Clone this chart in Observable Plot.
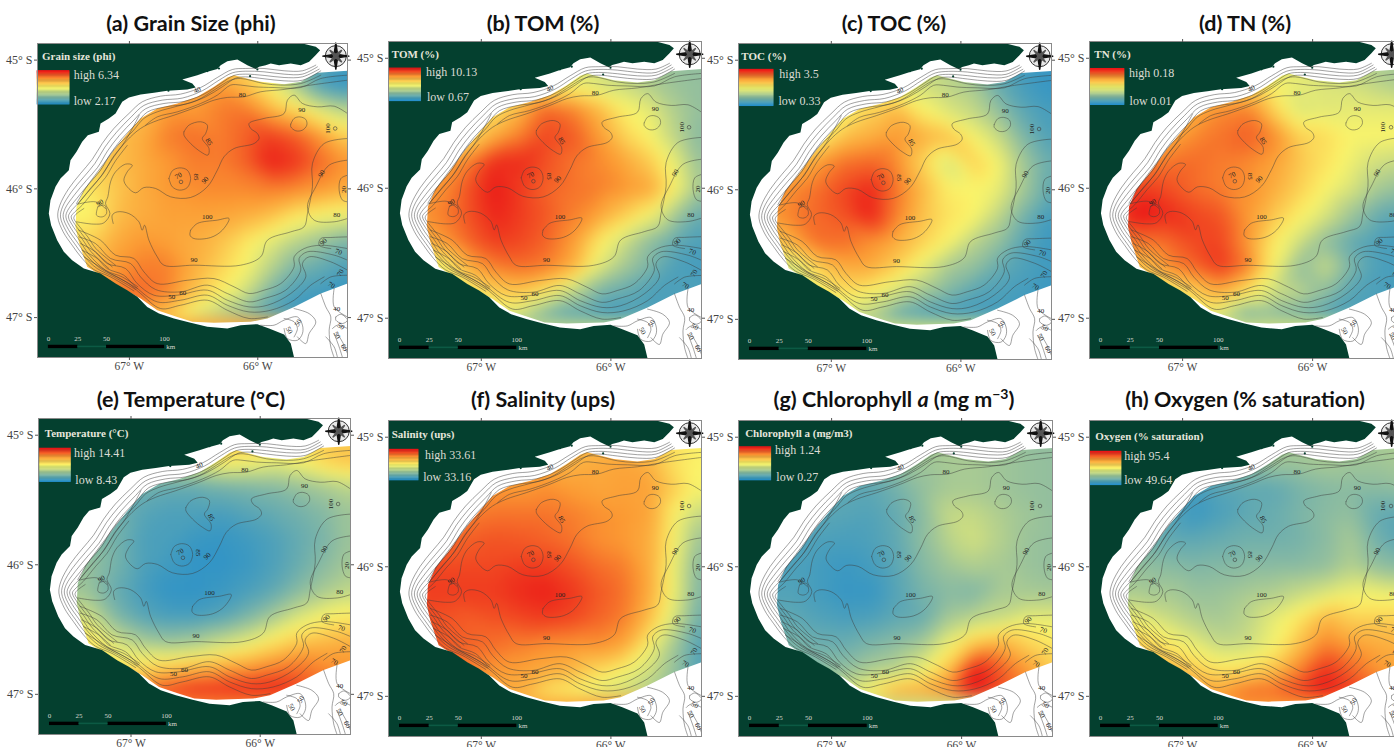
<!DOCTYPE html>
<html>
<head>
<meta charset="utf-8">
<script src="https://cdn.jsdelivr.net/npm/d3@7"></script>
<script src="https://cdn.jsdelivr.net/npm/@observablehq/plot@0.6"></script>
<style>
html,body{margin:0;padding:0;background:#fff;width:1394px;height:747px;overflow:hidden}
#page{position:relative;width:1394px;height:747px;overflow:hidden}
.t{position:absolute;transform:translateX(-50%);white-space:nowrap;font:700 21.5px Lato,"Open Sans",sans-serif;color:#111;line-height:24px}
.t sup{font-size:14px;line-height:0}
.p{position:absolute}
.p svg{display:block;background:transparent;max-width:none}
</style>
</head>
<body>
<div id="page"></div>
<script>
// Sampling grid, degrees west / degrees south
const lonW = [67.5,67.3,67.1,66.9,66.7,66.5,66.3,66.1,65.9,65.7,65.5,65.3];
const latS = [45.0,45.2,45.4,45.6,45.8,46.0,46.2,46.4,46.6,46.8,47.0];

// Levels on the legend ramp, 0 = legend low, 10 = legend high
const grainLevels = [
[6,6,6,6,6,6,6,6,5,2.5,1,.5],
[6,6,7,7,7,7,7.5,6.5,5,3,1,.5],
[6,6,6.5,6.5,7.5,7.5,8,8.2,7,6,4.5,3.5],
[6,6,6.5,7,8,8.3,8,8.5,9.2,8.7,7.5,6],
[5.5,6,6.5,7,7.5,8,8,8.5,9.7,9.3,8.3,7.5],
[5,5.5,6.3,7,7.5,7.7,7.8,7.8,8,7.8,7.5,7],
[5,5,6.5,7,7.3,7.3,7.2,7,6.5,5.5,5,4.7],
[5.5,6,7,7.5,7.3,7,6.5,5.5,4.5,3.5,2.7,2],
[6,6.5,7.5,8,8,7,6,5,3.5,2,1.5,1],
[7,7.5,8,8.5,8,6.5,5.3,4,2,1,.8,.5],
[6,6.5,7,7,6,4,3,2,1,.5,.5,.5]];
const tomLevels = [
[5,5,5,5,5,5,4.5,4,3.5,3,2.5,2.5],
[5,5,5,5,5,5,4.8,4.2,3.8,3.2,2.7,2.5],
[5,5,5,5.5,6.8,8.5,8,6.8,5.2,4.5,3.2,2.5],
[5,5,5.5,7,8,9,8.7,7.5,6,5,3.5,2.2],
[6,7,8,9.5,9.5,8.8,8.2,7.8,7.2,6.2,4.5,2.5],
[7,7.7,8.8,9.8,9.2,8.5,8.2,8,7.6,7.2,5,2.8],
[7.5,8,8.8,9.6,9.2,8.7,8,7.3,6.2,5,3,1.5],
[6.5,7.5,8.5,9.2,9,8.5,7.5,5.5,4,2.5,1.5,1],
[4,5,7,8,8.3,8,7,4.5,3,2,1,.8],
[3,4,5,6,6.3,5.3,3.5,2,1.5,1,1,1],
[3,3,3.5,4,3.5,1.5,.8,.7,.7,1,1,1]];
const tocLevels = [
[5,5,5,5,5,4.5,4,3.5,2.5,1.5,.7,.5],
[5,5,5,5,5,4.8,4,3.5,3,1.5,.8,.5],
[5,5,5,5,6,6.8,5.2,4.3,3.7,2.5,1.3,.8],
[5,5,5,6.5,7,7.5,7,6.5,5,3.8,2,1],
[6,6.5,7.5,8.3,8.5,7.8,6,4,6,4.8,2.8,1.5],
[7,7.8,8.3,9,9.6,8.2,6.7,5.2,5,4.5,2.8,1.3],
[7.5,8,8.4,8.8,9.7,8,6.5,5.5,5,3.5,1.8,.7],
[6,7,8.3,8.3,7.7,7,6,5,3.5,2.5,1.2,.6],
[3.5,4,6,7,7,6,4.5,3,2.5,1.5,1,.7],
[3,4,5,5.5,5,4,2.8,2,1.2,1,.8,.6],
[3,3,4,4,3,1.2,.8,.8,.8,.8,.7,.6]];
const tnLevels = [
[5,5,5,5,5,5,4.5,4.3,4,3.5,3,3],
[5,5,5,5,5.5,5.5,5,4.5,4.2,4,3.5,3],
[5,5.5,6,7,7.8,8,6,4.2,4.4,4.5,4.5,4.5],
[6,6.5,7,7.8,8.2,8.6,7.8,6,5.7,5,5,5],
[7,7.5,8.2,8.3,8,7.8,7.3,6.3,5.5,4.7,4,3.7],
[8.5,9.2,8.8,8.3,8,7.7,7,6,5,4.2,3,2.5],
[9.5,10,9.5,9,8.7,7.5,6.3,5.2,4.2,2.8,1.6,1.2],
[8,8.3,8.5,9,9,7.5,5.3,4,2.5,1.5,1,.8],
[6,6.5,7.8,8.5,9.3,8,5,2.5,3.8,2,1,.8],
[5,5,5,6,7,5.5,4,3.5,2.5,1.2,1,.8],
[4,4,4,4.5,3.5,1.2,1.8,1.5,1,1,.8,.8]];
const tempLevels = [
[5.5,5.5,5.5,5.5,5.5,5.5,6.5,7,6,6,6,6],
[3,3,3,3.5,4,4.5,5.3,5,4.5,5,6,6.5],
[2,2,2,1.8,1.5,1.5,1.8,2,2.2,2.6,3,3.5],
[2,2,1.8,1.2,1,1,.9,1.2,1.5,1.8,2.2,2.8],
[2.5,2.2,1.8,1,.9,.6,.5,.7,1,1.5,2,2.8],
[2.7,2.5,1.8,1,.7,.4,.4,.6,1,1.6,2.3,3],
[3,2.5,1.5,.8,.4,.4,.6,.9,1.4,2.3,3,3.6],
[4.5,3.8,2,1.2,.9,.9,1.2,2,3,4.2,5,5.3],
[6,5.5,4,3,2.7,3,3.8,4.5,5.5,6.3,6.7,7],
[5,5.3,5.5,5.8,6.3,6.8,7.2,7.5,8,8.3,7.8,7.5],
[8,8,8,8.5,9.5,10,10,10,10,9,8.5,8]];
const salLevels = [
[7,7,7,7,7,7,6.5,6.5,6.5,6.5,5.5,5],
[7,7,7,7,7,7,6.8,7,7.2,6.8,5.5,5],
[8,8,7.8,7.5,7.5,7.7,7.4,7.2,7.3,7.3,6,4.8],
[8,8,8,8.2,8.2,8.2,8,7.7,7.5,7.2,5,3.5],
[8.3,8.3,8.6,8.8,8.7,8.5,8.2,7.7,7.5,7,4.8,2.5],
[9,9,9,9,9.2,9.2,8.8,8.3,8,7,4.5,2],
[9.2,9.2,9.2,9.2,9.5,9.7,9.3,8.7,8.2,7,4.5,1.8],
[8.8,8.8,8.6,8.8,9,9.2,9,8.5,8,6.5,4,1.5],
[8.7,8.7,8.5,8.3,8,7.7,7.6,7.7,7.2,5,2.8,1],
[8,8,8,7.5,7.3,7,6.7,5.8,5,4,2.5,1],
[7,7,7,7,6.8,5.2,4.8,4.2,3.8,3,2.5,2]];
const chlLevels = [
[2.5,2.5,2.5,2.5,2.5,2.5,2.8,3,3,2.8,2.5,2.5],
[2,2,2,2,2.2,2.5,2.8,3,3,2.8,2.6,2.5],
[1.5,1.5,1.5,1.4,1.3,1.8,2.5,3,3,2.8,2.6,2.5],
[1.3,1.3,1.3,1.2,1.1,1.5,2.3,3.7,3.7,3.2,2.8,2.5],
[1.2,1.2,1,.9,1,1.4,2.4,3.4,4,3.3,2.7,2.5],
[1,1,.8,.6,.8,1.3,2.2,2.8,3.2,3,2.7,2.5],
[1.1,1.1,.8,.5,.5,1.2,1.9,2.3,2.1,3,3,2.9],
[1.4,1.4,1.1,.9,1,1.4,1.6,3,3.5,3.8,4.5,4.5],
[2,2,1.7,1.6,2,2.4,3,4.8,6.5,7,6,5.3],
[2.3,2.3,2.3,2.5,3.2,3.5,4.7,6.5,10,8.7,7.5,6],
[4,4,4,4.5,5.5,7.5,7.5,8,10,9,8,7]];
const oxyLevels = [
[3,3,3,3,3,3,3,3,3,3,3,3],
[2,2,2,2,2,2.5,2.8,2.8,3,2.8,2.8,3],
[1,1,1,.8,1.2,1.4,1.4,1.9,2.2,2.3,2.3,2.5],
[1.5,1.5,1.2,.6,1,1.4,1.6,2,2.3,2.5,1.5,1.3],
[2,1.8,1.5,1.4,1.6,1.8,1.8,1.9,2.3,3,1.8,1.2],
[2.7,2.5,2.3,2.1,2.2,2.3,2.3,2.3,2.5,3.3,2.5,2.2],
[3.2,3,3,2.6,2.7,3,3.2,3.7,4.2,4.7,4.7,4.5],
[5,4.5,3.8,3.2,3,3.5,4.5,5.5,6.8,6,6,6],
[6.5,6,5.3,4.5,3.7,3.9,4.8,6.5,8,7.3,7,6.8],
[7,7,6.8,6.2,5.5,5.7,6.5,8,9.5,8.5,7.5,7],
[7.5,7.5,7.5,7.5,7.5,8.8,8.7,9.3,10,9.5,9,8.5]];

// Ramp of the legend
const rampLevels = [0,2.5,5,7.5,10];
const rampColors = ["#1f8ccd","#93bf9e","#fbf56a","#fb9a33","#ea0f16"];
const rampSteps = d3.range(0,10,0.25);

// Map extent and shapes, [degrees west, degrees south]
const domainLon = [67.716,65.301];
const domainLat = [47.310,44.871];
const land = [[67.716,44.871],[65.652,44.871],[65.548,44.897],[65.514,44.923],[65.548,44.961],[65.600,45.013],[65.665,45.039],[65.743,45.026],[65.834,45.039],[65.899,45.026],[65.938,45.039],[65.990,45.052],[66.016,45.070],[66.081,45.039],[66.159,44.995],[66.237,45.008],[66.289,45.039],[66.315,45.070],[66.393,45.091],[66.471,45.117],[66.588,45.150],[66.510,45.182],[66.484,45.213],[66.549,45.228],[66.705,45.238],[66.809,45.254],[66.913,45.267],[67.004,45.290],[67.056,45.324],[67.108,45.415],[67.160,45.453],[67.225,45.492],[67.238,45.557],[67.324,45.583],[67.368,45.635],[67.412,45.712],[67.459,45.777],[67.472,45.855],[67.537,45.920],[67.576,45.984],[67.615,46.088],[67.628,46.192],[67.610,46.282],[67.563,46.399],[67.511,46.489],[67.446,46.554],[67.355,46.619],[67.225,46.658],[67.108,46.736],[67.017,46.787],[66.939,46.839],[66.861,46.917],[66.770,46.969],[66.653,47.007],[66.523,47.041],[66.393,47.072],[66.237,47.085],[66.133,47.059],[66.003,47.051],[65.912,47.085],[65.795,47.132],[65.743,47.202],[65.717,47.310],[67.716,47.310]];
const surveyEdge = [[65.301,45.083],[65.535,45.099],[65.665,45.169],[65.795,45.187],[65.977,45.169],[66.185,45.117],[66.237,45.135],[66.341,45.207],[66.471,45.285],[66.627,45.337],[66.783,45.376],[66.913,45.453],[67.004,45.557],[67.121,45.700],[67.251,45.881],[67.355,46.010],[67.412,46.140],[67.420,46.295],[67.394,46.412],[67.329,46.606],[67.225,46.671],[67.095,46.748],[66.913,46.852],[66.783,46.943],[66.627,46.995],[66.510,47.033],[66.341,47.041],[66.055,47.033],[65.925,47.007],[65.717,46.917],[65.509,46.813],[65.301,46.736]];
const seaCorners = [[65.301,47.310],[67.716,47.310],[67.716,44.871],[65.301,44.871]];
const islets = [[66.302,45.065],[66.393,45.085],[66.060,45.125],[66.003,45.073],[66.696,45.238]];

// Isobaths
const isobaths = [
[[65.548,45.039],[65.652,45.083],[65.795,45.083],[65.951,45.065],[66.094,45.065],[66.198,45.073],[66.315,45.135],[66.445,45.213],[66.601,45.264],[66.757,45.280],[66.900,45.324],[67.004,45.415],[67.121,45.531],[67.212,45.648],[67.290,45.772],[67.381,45.881],[67.472,45.997],[67.542,46.127],[67.558,46.218],[67.516,46.334],[67.446,46.438],[67.368,46.541],[67.277,46.627],[67.147,46.684],[66.965,46.793]],
[[65.535,45.052],[65.652,45.109],[65.795,45.109],[65.951,45.091],[66.094,45.086],[66.198,45.099],[66.302,45.156],[66.432,45.238],[66.588,45.295],[66.744,45.311],[66.887,45.352],[66.986,45.441],[67.100,45.560],[67.191,45.676],[67.269,45.803],[67.355,45.907],[67.451,46.023],[67.521,46.140],[67.537,46.218],[67.495,46.326],[67.428,46.425],[67.350,46.528],[67.251,46.619],[67.121,46.684],[66.952,46.782]],
[[65.522,45.070],[65.652,45.130],[65.795,45.135],[65.951,45.119],[66.094,45.109],[66.185,45.119],[66.289,45.182],[66.419,45.264],[66.575,45.321],[66.731,45.337],[66.874,45.378],[66.965,45.466],[67.079,45.586],[67.170,45.705],[67.248,45.834],[67.334,45.933],[67.430,46.049],[67.501,46.153],[67.516,46.218],[67.475,46.316],[67.407,46.414],[67.334,46.515],[67.225,46.619],[67.095,46.684],[66.939,46.774]],
[[65.509,45.083],[65.652,45.156],[65.795,45.161],[65.951,45.145],[66.094,45.130],[66.172,45.140],[66.276,45.207],[66.406,45.285],[66.562,45.342],[66.718,45.363],[66.861,45.404],[66.944,45.492],[67.059,45.611],[67.150,45.731],[67.228,45.860],[67.313,45.958],[67.410,46.075],[67.480,46.166],[67.495,46.218],[67.454,46.308],[67.386,46.404],[67.316,46.508],[67.186,46.632],[67.056,46.684],[66.934,46.761]],
[[66.923,45.428],[67.038,45.637],[67.129,45.756],[67.207,45.886],[67.293,45.984],[67.389,46.101],[67.459,46.179],[67.475,46.218],[67.433,46.300],[67.365,46.394],[67.298,46.489],[67.160,46.619]],
[[67.017,45.663],[67.108,45.782],[67.186,45.912],[67.272,46.010],[67.368,46.127],[67.438,46.192],[67.454,46.218],[67.412,46.295],[67.345,46.383],[67.280,46.476],[67.134,46.606]],
[[67.355,46.153],[67.423,46.204],[67.433,46.230],[67.391,46.290],[67.324,46.373],[67.261,46.464],[67.108,46.593]],
[[65.509,45.117],[65.665,45.182],[65.821,45.194],[65.951,45.182],[66.133,45.143],[66.211,45.156],[66.341,45.233],[66.471,45.311],[66.627,45.358],[66.783,45.402],[66.887,45.453],[66.978,45.557],[67.090,45.661],[67.199,45.803],[67.277,45.907],[67.342,45.997],[67.412,46.114]],
[[65.301,45.156],[65.587,45.194],[65.795,45.228],[65.977,45.246],[66.107,45.285],[66.237,45.290],[66.341,45.311],[66.471,45.363],[66.653,45.428],[66.809,45.479],[66.913,45.531],[67.017,45.622],[67.121,45.751],[67.225,45.907],[67.355,46.062],[67.402,46.119]],
[[65.301,45.117],[65.509,45.143],[65.665,45.213],[65.873,45.213],[66.029,45.207],[66.133,45.194],[66.211,45.194],[66.315,45.272],[66.445,45.337],[66.627,45.402],[66.783,45.441],[66.874,45.505]],
[[65.301,45.415],[65.405,45.358],[65.535,45.363],[65.652,45.337],[65.717,45.272],[65.769,45.311],[65.795,45.415],[65.951,45.453],[66.068,45.492],[66.055,45.531],[66.003,45.570],[65.990,45.609],[66.029,45.648],[66.185,45.687],[66.263,45.751],[66.315,45.855],[66.393,45.984],[66.523,46.067],[66.679,46.062],[66.796,45.997],[66.887,45.990],[66.952,46.031],[67.017,45.984],[67.043,45.933],[67.017,45.868],[66.978,45.816],[67.030,45.808],[67.108,45.868],[67.147,45.946],[67.168,46.062],[67.186,46.114],[67.152,46.192],[67.199,46.264],[67.277,46.274],[67.412,46.256]],
[[67.402,46.119],[67.264,46.101],[67.186,46.153]],
[[67.246,46.140],[67.194,46.127],[67.178,46.192],[67.212,46.218],[67.256,46.205],[67.246,46.140]],
[[67.126,46.269],[67.134,46.205],[67.095,46.179],[67.004,46.192],[66.926,46.256],[66.900,46.321],[66.882,46.282],[66.848,46.399],[66.783,46.528],[66.731,46.593],[66.497,46.593],[66.133,46.593],[65.977,46.528],[65.925,46.399],[65.743,46.334],[65.639,46.295],[65.613,46.192],[65.574,45.984],[65.574,45.803],[65.483,45.648],[65.301,45.609]],
[[65.301,45.777],[65.444,45.816],[65.548,45.984],[65.613,46.140],[65.561,46.243],[65.405,46.256],[65.301,46.230]],
[[66.523,46.321],[66.471,46.269],[66.315,46.243],[66.224,46.230],[66.276,46.321],[66.367,46.378],[66.497,46.386],[66.528,46.360],[66.523,46.321]],
[[66.575,45.557],[66.536,45.505],[66.445,45.479],[66.393,45.505],[66.406,45.570],[66.432,45.609],[66.380,45.687],[66.388,45.738],[66.445,45.712],[66.523,45.648],[66.575,45.583],[66.575,45.557]],
[[66.692,45.920],[66.666,45.860],[66.609,45.837],[66.549,45.855],[66.523,45.920],[66.549,45.990],[66.609,46.010],[66.666,45.984],[66.692,45.920]],
[[65.743,45.497],[65.717,45.453],[65.673,45.441],[65.626,45.461],[65.618,45.505],[65.652,45.544],[65.704,45.549],[65.743,45.518],[65.743,45.497]],
[[65.301,45.894],[65.353,45.920],[65.366,46.010],[65.340,46.088],[65.301,46.101]],
[[67.394,46.321],[67.225,46.399],[67.108,46.515],[66.965,46.541],[66.887,46.645],[66.783,46.736],[66.549,46.710],[66.341,46.697],[66.185,46.761],[66.068,46.813],[65.951,46.787],[65.821,46.736],[65.717,46.606],[65.717,46.528],[65.639,46.464],[65.509,46.438],[65.301,46.464]],
[[67.394,46.373],[67.264,46.425],[67.147,46.541],[66.991,46.580],[66.913,46.684],[66.796,46.782],[66.601,46.800],[66.393,46.748],[66.237,46.813],[66.068,46.878],[65.951,46.852],[65.782,46.787],[65.665,46.632],[65.678,46.541],[65.613,46.489],[65.405,46.515],[65.301,46.554]],
[[67.381,46.425],[67.264,46.489],[67.173,46.580],[67.030,46.619],[66.939,46.736],[66.809,46.826],[66.627,46.826],[66.393,46.787],[66.237,46.865],[66.068,46.917],[65.925,46.904],[65.743,46.813],[65.626,46.684],[65.652,46.580],[65.600,46.528],[65.431,46.567],[65.301,46.632]],
[[67.368,46.477],[67.251,46.541],[67.173,46.619],[67.043,46.671],[66.952,46.761],[66.783,46.878],[66.601,46.865],[66.393,46.826],[66.237,46.904],[66.068,46.956],[65.899,46.943],[65.717,46.865],[65.587,46.748],[65.483,46.684]],
[[67.355,46.528],[67.251,46.593],[67.147,46.658],[67.004,46.736],[66.913,46.813],[66.757,46.930],[66.601,46.904],[66.393,46.865],[66.237,46.943],[66.068,47.007],[65.925,46.995]],
[[65.431,46.464],[65.522,46.438],[65.509,46.386],[65.431,46.378],[65.301,46.373]],
[[65.509,46.736],[65.431,46.684],[65.301,46.671]],
[[65.977,47.059],[65.873,47.059],[65.795,47.020],[65.691,46.995],[65.652,47.059],[65.652,47.124],[65.691,47.176],[65.769,47.163],[65.795,47.085]],
[[65.795,47.007],[65.717,47.033],[65.691,47.085],[65.717,47.150]],
[[65.717,46.930],[65.600,46.969],[65.548,47.033],[65.600,47.124],[65.626,47.202],[65.691,47.150]],
[[65.509,46.813],[65.470,46.917],[65.431,46.995],[65.444,47.098],[65.431,47.228],[65.405,47.310]],
[[65.405,46.774],[65.405,46.917],[65.301,46.995]],
[[65.392,46.995],[65.353,46.974],[65.301,47.020],[65.340,47.046],[65.392,47.020],[65.392,46.995]],
[[65.418,47.085],[65.379,47.059],[65.301,47.085]],
[[65.405,47.124],[65.366,47.228],[65.340,47.310]],
[[65.379,47.124],[65.327,47.215],[65.301,47.280]],
[[65.470,47.150],[65.405,47.228],[65.379,47.310]]
];
const seamounts = [[66.598,45.946],[65.397,45.531]];
const depthLabels = [
["40",66.471,45.233,-25],["80",66.120,45.267,0],["90",65.657,45.389,0],["100",65.457,45.531,-90],["85",66.380,45.635,60],["70",66.619,45.899,-30],["85",66.479,45.907,90],["90",66.411,45.933,-45],["90",66.497,46.549,0],["100",66.393,46.218,0],["90",65.504,45.881,-60],["20",65.327,46.005,-90],["80",65.384,46.205,0],["90",65.488,46.412,-45],["70",65.371,46.490,20],["70",65.358,46.653,-60],["70",65.426,46.748,30],["50",66.671,46.839,0],["60",66.585,46.808,0],["90",67.230,46.109,-30],["40",65.384,46.935,0],["50",65.686,47.041,-60],["50",65.756,47.098,60],["50",65.353,47.067,30],["50",65.384,47.137,60],["60",65.327,47.233,60]
];

// Scale bar
const barKm = [0,25,50,100];
const barLon = [67.631,67.402,67.178,66.726];
const compass = [65.392,44.969];

const panels = [
 {title:"(a) Grain Size (phi)",cx:191,ty:11,l:37,t:43,w:310,h:314,levels:grainLevels,name:"Grain size (phi)",high:6.34,low:2.17,
  tl:[67.681,44.974],bar:[67.717,67.465,45.083,45.347],hi:[67.434,45.114],lo:[67.434,45.316]},
 {title:"(b) TOM (%)",cx:543,ty:11,l:388,t:41,w:313,h:317,levels:tomLevels,name:"TOM (%)",high:10.13,low:0.67,
  tl:[67.691,44.969],bar:[67.708,67.463,45.077,45.332],hi:[67.427,45.105],lo:[67.419,45.303]},
 {title:"(c) TOC (%)",cx:894,ty:11,l:738,t:43,w:313,h:316,levels:tocLevels,name:"TOC (%)",high:3.5,low:0.33,
  tl:[67.694,44.974],bar:[67.707,67.444,45.072,45.356],hi:[67.401,45.108],lo:[67.408,45.315]},
 {title:"(d) TN (%)",cx:1245,ty:11,l:1089,t:41,w:314,h:317,levels:tnLevels,name:"TN (%)",high:0.18,low:0.01,
  tl:[67.679,44.969],bar:[67.710,67.446,45.080,45.362],hi:[67.413,45.111],lo:[67.408,45.332]},
 {title:"(e) Temperature (°C)",cx:191,ty:387,l:38,t:418,w:312,h:316,levels:tempLevels,name:"Temperature (°C)",high:14.41,low:8.43,
  tl:[67.667,44.990],bar:[67.705,67.464,45.102,45.363],hi:[67.441,45.138],lo:[67.431,45.348]},
 {title:"(f) Salinity (ups)",cx:543,ty:387,l:388,t:420,w:313,h:316,levels:salLevels,name:"Salinity (ups)",high:33.61,low:33.16,
  tl:[67.691,44.982],bar:[67.708,67.483,45.095,45.335],hi:[67.435,45.136],lo:[67.448,45.309]},
 {title:"(g) Chlorophyll <i>a</i> (mg m<sup>−3</sup>)",cx:894,ty:387,l:738,t:420,w:314,h:316,levels:chlLevels,name:"Chlorophyll a (mg/m3)",high:1.24,low:0.27,
  tl:[67.665,44.972],bar:[67.708,67.463,45.075,45.335],hi:[67.435,45.100],lo:[67.425,45.306]},
 {title:"(h) Oxygen (% saturation)",cx:1245,ty:387,l:1089,t:420,w:314,h:316,levels:oxyLevels,name:"Oxygen (% saturation)",high:95.4,low:49.64,
  tl:[67.672,44.995],bar:[67.710,67.469,45.110,45.372],hi:[67.449,45.149],lo:[67.449,45.333]}
];

const serif = '"Liberation Serif","Times New Roman",serif';
const mL=38,mR=6,mT=8,mB=26;
const page = document.getElementById("page");

function draw(p){
  const toVal = v => p.low + v/10*(p.high-p.low);
  const grid = latS.flatMap((la,i)=>lonW.map((lo,j)=>({lo,la,v:toVal(p.levels[i][j])})));
  const iso = isobaths.flatMap((line,k)=>line.map(([lo,la])=>({lo,la,k})));
  const mask = [...surveyEdge,...seaCorners];
  const plot = Plot.plot({
    width:p.w+mL+mR, height:p.h+mT+mB,
    marginLeft:mL, marginRight:mR, marginTop:mT, marginBottom:mB,
    x:{domain:domainLon}, y:{domain:domainLat},
    color:{domain:rampLevels.map(toVal), range:rampColors, type:"linear"},
    style:{background:"transparent",overflow:"visible",maxWidth:"none"},
    marks:[
      Plot.raster(grid,{x:"lo",y:"la",fill:"v",interpolate:"barycentric",blur:3,pixelSize:2}),
      Plot.line(mask,{x:d=>d[0],y:d=>d[1],fill:"#fff",stroke:"none"}),
      Plot.line(land,{x:d=>d[0],y:d=>d[1],fill:"#04402f",stroke:"none"}),
      Plot.dot(islets,{x:d=>d[0],y:d=>d[1],r:1.1,fill:"#04402f"}),
      Plot.line(iso,{x:"lo",y:"la",z:"k",stroke:"#3c3c3c",strokeWidth:0.6,strokeOpacity:0.8,curve:"catmull-rom"}),
      Plot.dot(seamounts,{x:d=>d[0],y:d=>d[1],r:1.8,stroke:"#3c3c3c",strokeWidth:0.6}),
      Plot.text(depthLabels,{x:d=>d[1],y:d=>d[2],text:d=>d[0],rotate:d=>d[3],fontSize:7,fontFamily:serif,fill:"#222"}),
      // compass
      Plot.dot([compass],{x:d=>d[0],y:d=>d[1],r:10.5,fill:"#e8e8e8",stroke:"#333",strokeWidth:1}),
      Plot.vector([0,90,180,270],{x:()=>compass[0],y:()=>compass[1],rotate:d=>d,length:13,anchor:"start",shape:"spike",r:2,fill:"#111",stroke:"#111"}),
      Plot.vector([45,135,225,315],{x:()=>compass[0],y:()=>compass[1],rotate:d=>d,length:8,anchor:"start",shape:"spike",r:1.4,fill:"#555",stroke:"#555"}),
      // legend
      Plot.rect(rampSteps,{x1:()=>p.bar[0],x2:()=>p.bar[1],
        y1:d=>p.bar[3]+(p.bar[2]-p.bar[3])*d/10,y2:d=>p.bar[3]+(p.bar[2]-p.bar[3])*(d+0.25)/10,
        fill:d=>toVal(d+0.125),inset:-0.2}),
      Plot.text([p.name],{x:()=>p.tl[0],y:()=>p.tl[1],text:d=>d,textAnchor:"start",fontWeight:"bold",fontSize:11,fill:"#e6e6dc",fontFamily:serif}),
      Plot.text([`high ${p.high}`],{x:()=>p.hi[0],y:()=>p.hi[1],text:d=>d,textAnchor:"start",fontSize:12,fill:"#dcdcd4",fontFamily:serif}),
      Plot.text([`low ${p.low}`],{x:()=>p.lo[0],y:()=>p.lo[1],text:d=>d,textAnchor:"start",fontSize:12,fill:"#dcdcd4",fontFamily:serif}),
      // scale bar
      Plot.rect([0,2],{x1:i=>barLon[i],x2:i=>barLon[i+1],y1:()=>47.215,y2:()=>47.241,fill:"#000"}),
      Plot.rect([1],{x1:i=>barLon[i],x2:i=>barLon[i+1],y1:()=>47.222,y2:()=>47.234,fill:"#0c5a44"}),
      Plot.text(barKm,{x:(d,i)=>barLon[i],y:()=>47.163,text:d=>String(d),fontSize:7,fill:"#d8d8d0",fontFamily:serif}),
      Plot.text(["km"],{x:()=>66.679,y:()=>47.228,text:d=>d,fontSize:7,fill:"#d8d8d0",fontFamily:serif}),
      // axes and frame
      Plot.frame({stroke:"#8a8a8a",strokeWidth:1}),
      Plot.axisX({anchor:"bottom",ticks:[67,66],tickFormat:d=>`${d}° W`,tickSize:3,tickPadding:1,fontSize:11.5,fontFamily:serif,fill:"#444",stroke:"#555",label:null}),
      Plot.axisX({anchor:"top",ticks:[67,66],fill:"none",tickSize:3,stroke:"#555",label:null}),
      Plot.axisY({anchor:"left",ticks:[45,46,47],tickFormat:d=>`${d}° S`,tickSize:3,tickPadding:2,fontSize:12,fontFamily:serif,fill:"#444",stroke:"#555",label:null}),
      Plot.axisY({anchor:"right",ticks:[45,46,47],fill:"none",tickSize:3,stroke:"#555",label:null})
    ]
  });
  const wrap = document.createElement("div");
  wrap.className="p";
  wrap.style.left=(p.l-mL)+"px"; wrap.style.top=(p.t-mT)+"px";
  wrap.style.width=(p.w+mL+mR)+"px";
  wrap.appendChild(plot);
  page.appendChild(wrap);
  const t = document.createElement("div");
  t.className="t"; t.innerHTML=p.title;
  t.style.left=p.cx+"px"; t.style.top=p.ty+"px";
  page.appendChild(t);
}
panels.forEach(draw);
</script>
</body>
</html>
